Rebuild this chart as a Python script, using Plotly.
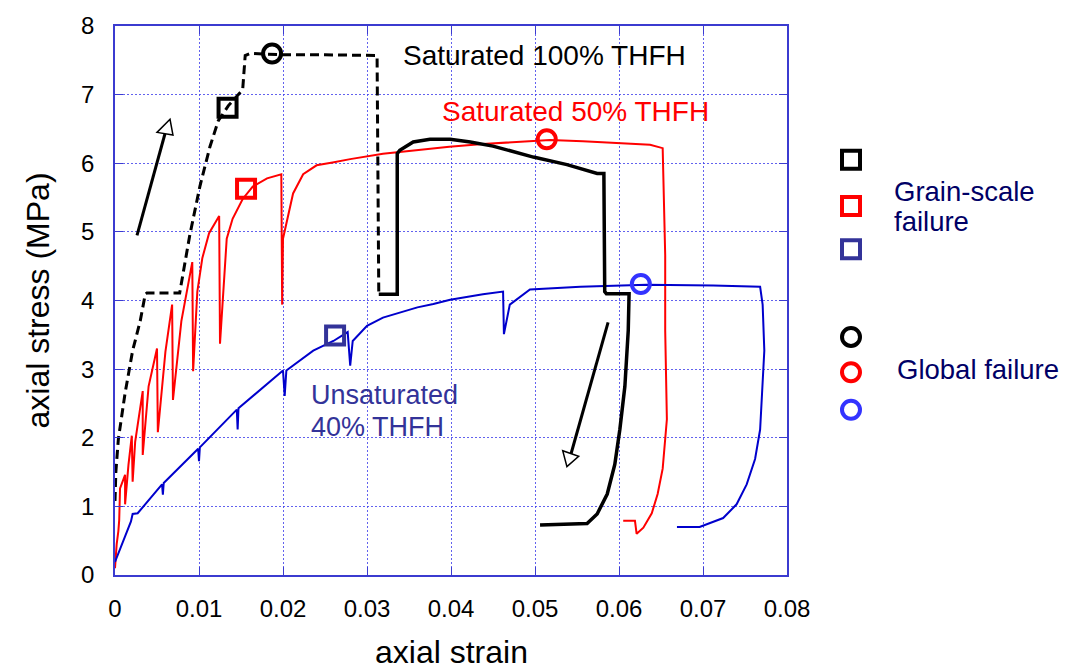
import plotly.graph_objects as go

# ---------------- data ----------------
black_dash_x = [0.0000, 0.0001, 0.0004, 0.0012, 0.0021, 0.0030, 0.0036, 0.0038, 0.0077, 0.0089,
                0.0101, 0.0113, 0.0123, 0.0135, 0.0152, 0.0155, 0.0161, 0.0200, 0.0250, 0.0312, 0.0314]
black_dash_y = [1.08, 1.50, 1.98, 2.65, 3.27, 3.70, 4.09, 4.11, 4.11, 4.95,
                5.66, 6.24, 6.62, 6.84, 7.07, 7.57, 7.60, 7.58, 7.58, 7.57, 4.13]

black_solid_x = [0.0314, 0.0336, 0.0336, 0.0339, 0.0355, 0.0375, 0.0399, 0.0423, 0.0450, 0.0498,
                 0.0538, 0.0574, 0.0582, 0.0583, 0.0585, 0.0612, 0.0611, 0.0607, 0.0601, 0.0595,
                 0.0586, 0.0574, 0.0562, 0.0506]
black_solid_y = [4.09, 4.09, 6.14, 6.19, 6.31, 6.35, 6.35, 6.31, 6.25, 6.09,
                 5.98, 5.85, 5.85, 4.13, 4.10, 4.10, 3.56, 2.75, 2.12, 1.61,
                 1.18, 0.89, 0.75, 0.73]

red_x = [0.0000, 0.0002, 0.0004, 0.0005, 0.0006, 0.0012, 0.0012, 0.0016, 0.0020, 0.0021,
         0.0024, 0.0033, 0.0033, 0.0040, 0.0050, 0.0051, 0.0060, 0.0068, 0.0069, 0.0079,
         0.0092, 0.0093, 0.0098, 0.0104, 0.0112, 0.0124, 0.0125, 0.0133, 0.0140, 0.0152,
         0.0164, 0.0181, 0.0198, 0.0199, 0.0200, 0.0205, 0.0212, 0.0224, 0.0240, 0.0259,
         0.0280, 0.0319, 0.0358, 0.0398, 0.0438, 0.0479, 0.0518, 0.0557, 0.0598, 0.0637,
         0.0652, 0.0655, 0.0655, 0.0657, 0.0652, 0.0646, 0.0639, 0.0629, 0.0621, 0.0619, 0.0605]
red_y = [0.10, 0.45, 0.64, 0.80, 1.26, 1.46, 1.03, 1.60, 2.03, 1.36,
         1.94, 2.68, 1.75, 2.75, 3.30, 2.08, 3.25, 3.94, 2.55, 3.70,
         4.56, 2.97, 4.13, 4.62, 4.98, 5.23, 3.37, 4.90, 5.19, 5.48,
         5.66, 5.78, 5.84, 3.94, 4.90, 5.19, 5.56, 5.84, 5.97, 6.01,
         6.06, 6.14, 6.19, 6.24, 6.28, 6.31, 6.34, 6.32, 6.29, 6.27,
         6.22, 4.66, 3.56, 2.27, 1.55, 1.18, 0.90, 0.69, 0.60, 0.79, 0.79]

blue_x = [0.0000, 0.0019, 0.0021, 0.0027, 0.0056, 0.0057, 0.0058, 0.0099, 0.0100, 0.0101,
          0.0145, 0.0146, 0.0147, 0.0200, 0.0202, 0.0204, 0.0236, 0.0260, 0.0277, 0.0280,
          0.0283, 0.0300, 0.0319, 0.0339, 0.0360, 0.0379, 0.0399, 0.0438, 0.0462, 0.0463,
          0.0470, 0.0494, 0.0554, 0.0633, 0.0712, 0.0768, 0.0771, 0.0773, 0.0771, 0.0768,
          0.0762, 0.0752, 0.0740, 0.0724, 0.0696, 0.0669]
blue_y = [0.19, 0.78, 0.89, 0.90, 1.32, 1.17, 1.34, 1.84, 1.66, 1.86,
          2.41, 2.12, 2.43, 2.98, 2.61, 2.98, 3.27, 3.41, 3.54, 3.05,
          3.41, 3.63, 3.75, 3.82, 3.90, 3.95, 4.01, 4.09, 4.13, 3.51,
          3.94, 4.16, 4.20, 4.23, 4.22, 4.20, 3.94, 3.27, 2.75, 2.12,
          1.69, 1.32, 1.03, 0.83, 0.70, 0.70]

# failure markers: [black, red, blue]
grain_x = [0.0134, 0.0156, 0.0262]
grain_y = [6.81, 5.63, 3.49]
global_x = [0.0187, 0.0514, 0.0626]
global_y = [7.60, 6.35, 4.24]

x_ticks = [0, 0.01, 0.02, 0.03, 0.04, 0.05, 0.06, 0.07, 0.08]
x_tick_text = ["0", "0.01", "0.02", "0.03", "0.04", "0.05", "0.06", "0.07", "0.08"]
y_ticks = [0, 1, 2, 3, 4, 5, 6, 7, 8]

# ---------------- styles ----------------
FONT = "Liberation Sans, Arial, sans-serif"
AX_BLUE = "#3b3bd0"
GRID = "rgba(70,70,235,0.85)"
grain_colors = ["#000000", "#ff0000", "#333399"]
global_colors = ["#000000", "#ff0000", "#3333ff"]

fig = go.Figure()

fig.add_trace(go.Scatter(x=red_x, y=red_y, mode="lines",
                         line=dict(color="#ff0000", width=2), hoverinfo="skip"))
fig.add_trace(go.Scatter(x=blue_x, y=blue_y, mode="lines",
                         line=dict(color="#0000cc", width=2), hoverinfo="skip"))
fig.add_trace(go.Scatter(x=black_dash_x, y=black_dash_y, mode="lines",
                         line=dict(color="#000000", width=3, dash="9px,5px"), hoverinfo="skip"))
fig.add_trace(go.Scatter(x=black_solid_x, y=black_solid_y, mode="lines",
                         line=dict(color="#000000", width=3.5), hoverinfo="skip"))

fig.add_trace(go.Scatter(x=grain_x, y=grain_y, mode="markers",
                         marker=dict(symbol="square-open", size=18, color=grain_colors,
                                     line=dict(width=4, color=grain_colors)), hoverinfo="skip"))
fig.add_trace(go.Scatter(x=global_x, y=global_y, mode="markers",
                         marker=dict(symbol="circle-open", size=18, color=global_colors,
                                     line=dict(width=4, color=global_colors)), hoverinfo="skip"))

L, R, T, B = 115, 279, 17, 97
W, H = 1066, 672
PW, PH = W - L - R, H - T - B


def px2paper(px, py):
    return (px - L) / PW, (H - B - py) / PH


shapes = []
# legend markers (paper coordinates with pixel sizing)
for py, col in zip([153, 200, 244], grain_colors):
    ax, ay = px2paper(851, py)
    shapes.append(dict(type="rect", xref="paper", yref="paper", xsizemode="pixel", ysizemode="pixel",
                       xanchor=ax, yanchor=ay, x0=-9, x1=9, y0=-9, y1=9,
                       line=dict(color=col, width=4), fillcolor="rgba(0,0,0,0)"))
for py, col in zip([333, 369, 407], global_colors):
    ax, ay = px2paper(851, py)
    shapes.append(dict(type="circle", xref="paper", yref="paper", xsizemode="pixel", ysizemode="pixel",
                       xanchor=ax, yanchor=ay, x0=-9, x1=9, y0=-9, y1=9,
                       line=dict(color=col, width=4), fillcolor="rgba(0,0,0,0)"))

# arrows (open triangle heads)
shapes.append(dict(type="line", xref="x", yref="y", x0=0.00262, y0=4.95, x1=0.00595, y1=6.43,
                   line=dict(color="black", width=3)))
shapes.append(dict(type="path", xref="x", yref="y",
                   path="M 0.00655 6.64 L 0.0050 6.45 L 0.0069 6.41 Z",
                   line=dict(color="black", width=1.5), fillcolor="white"))
shapes.append(dict(type="line", xref="x", yref="y", x0=0.0587, y0=3.68, x1=0.0543, y1=1.77,
                   line=dict(color="black", width=3)))
shapes.append(dict(type="path", xref="x", yref="y",
                   path="M 0.0538 1.58 L 0.0533 1.81 L 0.0552 1.73 Z",
                   line=dict(color="black", width=1.5), fillcolor="white"))

annotations = []


def text_px(txt, px, py, color, size, xanchor="left"):
    ax, ay = px2paper(px, py)
    annotations.append(dict(text=txt, x=ax, y=ay, xref="paper", yref="paper", showarrow=False,
                            xanchor=xanchor, yanchor="middle",
                            font=dict(family=FONT, size=size, color=color)))


text_px("Saturated 100% THFH", 401, 47, "#000000", 28)
text_px("Saturated 50% THFH", 440, 104, "#ff0000", 28)
text_px("Unsaturated", 309, 392, "#333399", 27)
text_px("40% THFH", 309, 425, "#333399", 27)
text_px("Grain-scale", 892, 185, "#000066", 27.5)
text_px("failure", 892, 216, "#000066", 27.5)
text_px("Global failure", 895, 366, "#000066", 27.5)

# axis titles
ax_, ay_ = px2paper(451, 653)
annotations.append(dict(text="axial strain", x=ax_, y=ay_, xref="paper", yref="paper", showarrow=False,
                        xanchor="center", yanchor="middle", font=dict(family=FONT, size=32, color="black")))
ax_, ay_ = px2paper(37, 296)
annotations.append(dict(text="axial stress (MPa)", x=ax_, y=ay_, xref="paper", yref="paper", showarrow=False,
                        xanchor="center", yanchor="middle", textangle=-90,
                        font=dict(family=FONT, size=32, color="black")))

TICKFONT = dict(family=FONT, size=24, color="black")

fig.update_layout(
    width=W, height=H,
    margin=dict(l=L, r=R, t=T, b=B),
    paper_bgcolor="white", plot_bgcolor="white",
    showlegend=False,
    shapes=shapes, annotations=annotations,
    font=dict(family=FONT, color="black"),
)
fig.update_xaxes(range=[0, 0.08], tickvals=x_ticks, ticktext=x_tick_text,
                 showline=True, linecolor=AX_BLUE, linewidth=1.5, mirror="ticks",
                 ticks="inside", ticklen=8, tickcolor=AX_BLUE, tickwidth=1,
                 showgrid=True, gridcolor=GRID, gridwidth=1, griddash="2px,2px",
                 zeroline=False, ticklabelstandoff=11, tickfont=TICKFONT)
fig.update_yaxes(range=[0, 8], tickvals=y_ticks,
                 showline=True, linecolor=AX_BLUE, linewidth=1.5, mirror="ticks",
                 ticks="inside", ticklen=8, tickcolor=AX_BLUE, tickwidth=1,
                 showgrid=True, gridcolor=GRID, gridwidth=1, griddash="2px,2px",
                 zeroline=False, ticklabelstandoff=14, tickfont=TICKFONT)

fig.write_html("out.html", config={"displayModeBar": False},
               post_script="document.body.style.margin='0';document.body.style.overflow='hidden';")
